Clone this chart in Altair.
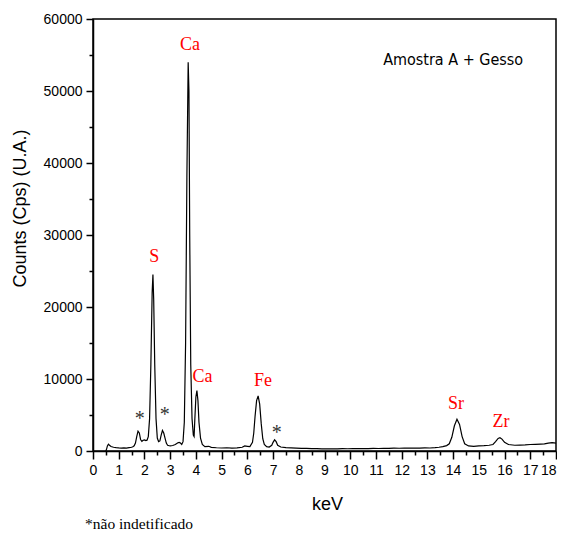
import altair as alt
import pandas as pd

# Spectrum (keV, counts)
energy = [0.50, 0.53, 0.56, 0.60, 0.64, 0.70, 0.80, 0.90, 1.00, 1.10, 1.20, 1.30, 1.40, 1.50,
          1.55, 1.60, 1.65, 1.70, 1.75, 1.80, 1.85, 1.90, 1.95, 2.00, 2.05, 2.10, 2.15, 2.20,
          2.25, 2.30, 2.33, 2.36, 2.40, 2.45, 2.50, 2.55, 2.60, 2.65, 2.70, 2.75, 2.80, 2.85,
          2.90, 3.00, 3.10, 3.20, 3.30, 3.35, 3.40, 3.45, 3.50, 3.55, 3.60, 3.65, 3.70, 3.73,
          3.76, 3.80, 3.85, 3.90, 3.93, 3.96, 4.00, 4.04, 4.08, 4.12, 4.18, 4.25, 4.35, 4.50,
          4.60, 4.80, 5.00, 5.20, 5.40, 5.60, 5.80, 5.90, 6.00, 6.10, 6.20, 6.25, 6.30, 6.36,
          6.42, 6.48, 6.54, 6.60, 6.66, 6.75, 6.85, 6.95, 7.00, 7.06, 7.12, 7.18, 7.30, 7.50,
          7.70, 7.90, 8.10, 8.30, 8.50, 8.70, 8.90, 9.10, 9.30, 9.50, 9.70, 9.90, 10.10, 10.30,
          10.50, 10.70, 10.90, 11.10, 11.30, 11.50, 11.70, 11.90, 12.10, 12.30, 12.50, 12.70,
          12.90, 13.10, 13.30, 13.45, 13.60, 13.75, 13.85, 13.95, 14.05, 14.15, 14.25, 14.35,
          14.45, 14.60, 14.80, 15.00, 15.20, 15.40, 15.55, 15.65, 15.75, 15.82, 15.90, 16.00,
          16.15, 16.40, 16.60, 16.80, 17.00, 17.20, 17.40, 17.55, 17.70, 17.85, 18.00]
counts = [0, 300, 700, 950, 800, 620, 520, 470, 430, 410, 430, 400, 460, 520,
          600, 720, 1100, 2000, 2750, 2500, 1600, 1350, 1500, 1550, 1450, 1500, 2000, 4500,
          12000, 22000, 24500, 21000, 12000, 4500, 1800, 1300, 1400, 2200, 2850, 2500, 1800, 1100,
          800, 700, 760, 900, 1150, 1200, 1100, 900, 1300, 4000, 15000, 38000, 54000, 50000,
          30000, 12000, 4500, 2200, 2000, 4500, 7500, 8400, 7000, 4000, 1800, 900, 600, 650,
          500, 450, 420, 450, 400, 430, 520, 700, 650, 600, 1200, 2500, 4800, 7000,
          7650, 6500, 3800, 1700, 900, 600, 550, 800, 1200, 1550, 1300, 800, 550, 470,
          430, 400, 370, 360, 340, 330, 300, 290, 310, 300, 320, 310, 330, 320,
          350, 340, 360, 350, 370, 360, 390, 380, 400, 390, 420, 410,
          430, 420, 470, 520, 600, 750, 1000, 1900, 3500, 4400, 3700, 2000,
          1000, 700, 650, 700, 740, 800, 900, 1300, 1750, 1850, 1650, 1200,
          900, 800, 820, 850, 900, 920, 950, 980, 1100, 1150, 1100]

peak_names = ["Ca", "S", "Ca", "Fe", "Sr", "Zr"]
peak_x = [3.77, 2.38, 4.26, 6.61, 14.11, 15.86]
peak_y = [56400, 27000, 10230, 9770, 6530, 3990]

star_x = [1.82, 2.79, 7.14]
star_y = [4400, 4960, 2540]

major_x = list(range(0, 19))
minor_x = [0.5, 1.5, 2.5, 3.5, 4.5, 5.5, 6.5, 7.5, 8.5, 9.5, 10.5, 11.5, 12.5, 13.5,
           14.5, 15.5, 16.5, 17.5]
major_y = [0, 10000, 20000, 30000, 40000, 50000, 60000]
minor_y = [5000, 15000, 25000, 35000, 45000, 55000]

sample_label = ["Amostra A + Gesso"]
sample_x = [14.0]
sample_y = [54300]

footnote = "*não indetificado"

spec = pd.DataFrame({"energy": energy, "counts": counts})
peaks = pd.DataFrame({"name": peak_names, "x": peak_x, "y": peak_y})
stars = pd.DataFrame({"x": star_x, "y": star_y, "t": ["*"] * len(star_x)})
sample = pd.DataFrame({"t": sample_label, "x": sample_x, "y": sample_y})

xs = alt.Scale(domain=[0, 18], nice=False, zero=False)
ys = alt.Scale(domain=[0, 60000], nice=False)

LF = "Liberation Sans"

line = alt.Chart(spec).mark_line(color="black", strokeWidth=1.2).encode(
    x=alt.X("energy:Q", scale=xs, axis=alt.Axis(
        values=major_x, tickSize=8, tickWidth=1.5, labelFont=LF, labelFontSize=14,
        labelColor="black", labelPadding=4, grid=False, domainColor="black", domainWidth=1.5,
        tickColor="black", title="keV", titleFont=LF, titleFontSize=18, titleFontWeight="normal",
        titleColor="black", titleBaseline="alphabetic", titleX=234, titleY=58,
        labelAlign=alt.expr("datum.value === 18 ? 'right' : 'center'"),
        orient="bottom", labelFlush=False, format="d")),
    y=alt.Y("counts:Q", scale=ys, axis=alt.Axis(
        values=major_y, tickSize=7, tickWidth=1.5, labelFont=LF, labelFontSize=14,
        labelColor="black", labelPadding=4, grid=False, domainColor="black", domainWidth=1.5,
        tickColor="black", title="Counts (Cps) (U.A.)", titleFont=LF, titleFontSize=18,
        titleFontWeight="normal", titleColor="black", titleBaseline="middle",
        titleX=-73, titleY=189, orient="left", labelFlush=False, format="d")),
)

minor = alt.Chart(spec).mark_line(opacity=0).encode(
    x=alt.X("energy:Q", scale=xs, axis=alt.Axis(
        values=minor_x, tickSize=4, tickWidth=1.5, labels=False, domain=False, grid=False,
        tickColor="black", title=None, orient="bottom")),
    y=alt.Y("counts:Q", scale=ys, axis=alt.Axis(
        values=minor_y, tickSize=4, tickWidth=1.5, labels=False, domain=False, grid=False,
        tickColor="black", title=None, orient="left")),
)

peak_text = alt.Chart(peaks).mark_text(
    color="#ff0000", font="Liberation Serif", fontSize=18, baseline="middle", align="center"
).encode(x=alt.X("x:Q", scale=xs, axis=None), y=alt.Y("y:Q", scale=ys, axis=None),
         text="name:N")

star_text = alt.Chart(stars).mark_text(
    color="#333333", font="Liberation Serif", fontSize=20, baseline="middle", align="center"
).encode(x=alt.X("x:Q", scale=xs, axis=None), y=alt.Y("y:Q", scale=ys, axis=None),
         text="t:N")

sample_text = alt.Chart(sample).mark_text(
    color="black", font="DejaVu Sans Condensed, Liberation Sans", fontSize=16,
    baseline="middle", align="center"
).encode(x=alt.X("x:Q", scale=xs, axis=None), y=alt.Y("y:Q", scale=ys, axis=None),
         text="t:N")

foot = alt.Chart(pd.DataFrame({"t": [footnote]})).mark_text(
    color="black", font="Liberation Serif", fontSize=15.5, baseline="middle", align="left"
).encode(x=alt.value(-8), y=alt.value(505), text="t:N")

chart = alt.layer(line, minor, peak_text, star_text, sample_text, foot).resolve_axis(
    x="independent", y="independent"
).properties(
    width=463, height=432,
    padding={"left": 85, "top": 11, "right": 1, "bottom": 80},
    autosize=alt.AutoSizeParams(type="none"),
).configure_view(stroke="black", strokeWidth=1.5)

chart.save("out.html", embed_options={"renderer": "svg", "actions": False})
